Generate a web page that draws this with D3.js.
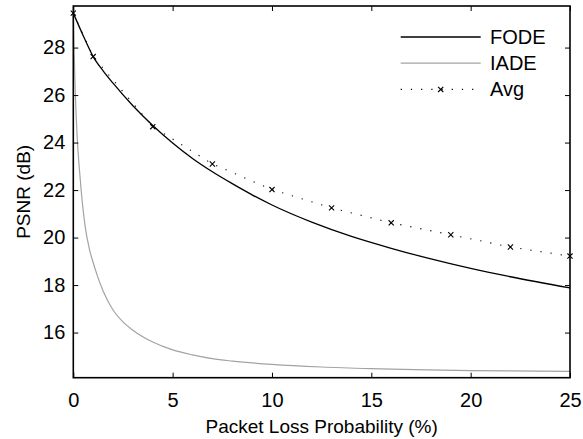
<!DOCTYPE html>
<html>
<head>
<meta charset="utf-8">
<script src="https://cdn.jsdelivr.net/npm/d3@7"></script>
<style>
  body { margin: 0; background: white; }
  text { font-family: "Liberation Sans", Arial, sans-serif; fill: black; }
</style>
</head>
<body>
<div class="chart"></div>
<script>

var fodeX = [0, 0.5, 1, 1.5, 2, 3, 4, 5, 6, 7, 8, 9, 10, 12, 14, 16, 18, 20, 22, 25];
var fodeY = [29.45, 28.5, 27.62, 27.02, 26.5, 25.55, 24.72, 23.98, 23.33, 22.77, 22.27, 21.8, 21.37, 20.65, 20.05, 19.55, 19.1, 18.7, 18.35, 17.88];

var iadeX = [0, 0.05, 0.1, 0.2, 0.3, 0.4, 0.6, 0.8, 1, 1.2, 1.5, 2, 2.5, 3, 4, 5, 6, 7, 8, 10, 12.5, 15, 20, 25];
var iadeY = [29.45, 27.55, 26.1, 24.15, 22.95, 21.95, 20.45, 19.55, 18.95, 18.42, 17.75, 16.95, 16.45, 16.1, 15.6, 15.27, 15.06, 14.9, 14.8, 14.66, 14.55, 14.48, 14.4, 14.37];

var avgX = [0, 1, 4, 7, 10, 13, 16, 19, 22, 25];
var avgY = [29.45, 27.62, 24.67, 23.1, 22.02, 21.25, 20.62, 20.12, 19.6, 19.22];

var xTicks = [0, 5, 10, 15, 20, 25];
var yTicks = [16, 18, 20, 22, 24, 26, 28];

var width = 583,
    height = 439,
    plotLeft = 73.3,
    plotRight = 570,
    plotTop = 6,
    plotBottom = 377.7;

var svg = d3.select('.chart').append('svg')
    .attr('width', width)
    .attr('height', height)
    .style('background', 'white');

var x = d3.scaleLinear().domain([0, 25]).range([plotLeft, plotRight]);
var y = d3.scaleLinear().domain([14.1, 29.75]).range([plotBottom, plotTop]);

var line = d3.line()
    .x(function(d) { return x(d[0]); })
    .y(function(d) { return y(d[1]); })
    .curve(d3.curveMonotoneX);

function pairs(xs, ys) {
    return xs.map(function(v, i) { return [v, ys[i]]; });
}

//curves
svg.append('path')
    .attr('d', line(pairs(iadeX, iadeY)))
    .attr('fill', 'none')
    .attr('stroke', '#a3a3a3')
    .attr('stroke-width', 1.2);

svg.append('path')
    .attr('d', line(pairs(fodeX, fodeY)))
    .attr('fill', 'none')
    .attr('stroke', 'black')
    .attr('stroke-width', 1.3);

var avgLine = d3.line()
    .x(function(d) { return x(d[0]); })
    .y(function(d) { return y(d[1]); });

svg.append('path')
    .attr('d', avgLine(pairs(avgX, avgY)))
    .attr('fill', 'none')
    .attr('stroke', 'black')
    .attr('stroke-width', 1.1)
    .attr('stroke-dasharray', '1.2,9');

function cross(g, cx, cy) {
    var s = 2.6;
    g.append('path')
        .attr('d', 'M' + (cx - s) + ',' + (cy - s) + 'L' + (cx + s) + ',' + (cy + s) +
                   'M' + (cx - s) + ',' + (cy + s) + 'L' + (cx + s) + ',' + (cy - s))
        .attr('stroke', 'black')
        .attr('stroke-width', 1.1);
}

pairs(avgX, avgY).forEach(function(d) {
    cross(svg, x(d[0]), y(d[1]));
});

//axes, ticks inside on all four sides
svg.append('g')
    .attr('transform', 'translate(0,' + plotBottom + ')')
    .call(d3.axisBottom(x).tickValues(xTicks).tickSize(-5).tickPadding(15))
    .call(function(g) { g.select('.domain').remove(); })
    .selectAll('text').style('font-size', '20px');

svg.append('g')
    .attr('transform', 'translate(0,' + plotTop + ')')
    .call(d3.axisTop(x).tickValues(xTicks).tickSize(-5).tickFormat(''))
    .call(function(g) { g.select('.domain').remove(); });

svg.append('g')
    .attr('transform', 'translate(' + plotLeft + ',0)')
    .call(d3.axisLeft(y).tickValues(yTicks).tickSize(-5).tickPadding(8))
    .call(function(g) { g.select('.domain').remove(); })
    .selectAll('text').style('font-size', '20px');

svg.append('g')
    .attr('transform', 'translate(' + plotRight + ',0)')
    .call(d3.axisRight(y).tickValues(yTicks).tickSize(-5).tickFormat(''))
    .call(function(g) { g.select('.domain').remove(); });

svg.selectAll('.tick line').attr('stroke', 'black').attr('stroke-width', 1);

svg.append('rect')
    .attr('x', plotLeft)
    .attr('y', plotTop)
    .attr('width', plotRight - plotLeft)
    .attr('height', plotBottom - plotTop)
    .attr('fill', 'none')
    .attr('stroke', 'black')
    .attr('stroke-width', 1.6);

//axis titles
svg.append('text')
    .text('Packet Loss Probability (%)')
    .attr('x', (plotLeft + plotRight) / 2)
    .attr('y', 433)
    .attr('text-anchor', 'middle')
    .style('font-size', '19px');

svg.append('text')
    .text('PSNR (dB)')
    .attr('transform', 'translate(30,' + (plotTop + plotBottom) / 2 + ') rotate(-90)')
    .attr('text-anchor', 'middle')
    .style('font-size', '19px');

//legend
var legend = [
    { name: 'FODE', color: 'black', dash: null, mark: false },
    { name: 'IADE', color: '#a3a3a3', dash: null, mark: false },
    { name: 'Avg', color: 'black', dash: '1.2,9', mark: true }
];

legend.forEach(function(d, i) {
    var ly = 37 + i * 26.2;
    svg.append('line')
        .attr('x1', 400.7).attr('x2', 480.7)
        .attr('y1', ly).attr('y2', ly)
        .attr('stroke', d.color)
        .attr('stroke-width', d.mark ? 1.1 : 1.3)
        .attr('stroke-dasharray', d.dash);
    if (d.mark) cross(svg, 440.7, ly);
    svg.append('text')
        .text(d.name)
        .attr('x', 490)
        .attr('y', ly)
        .attr('dy', '0.35em')
        .style('font-size', '20px');
});

</script>
</body>
</html>
